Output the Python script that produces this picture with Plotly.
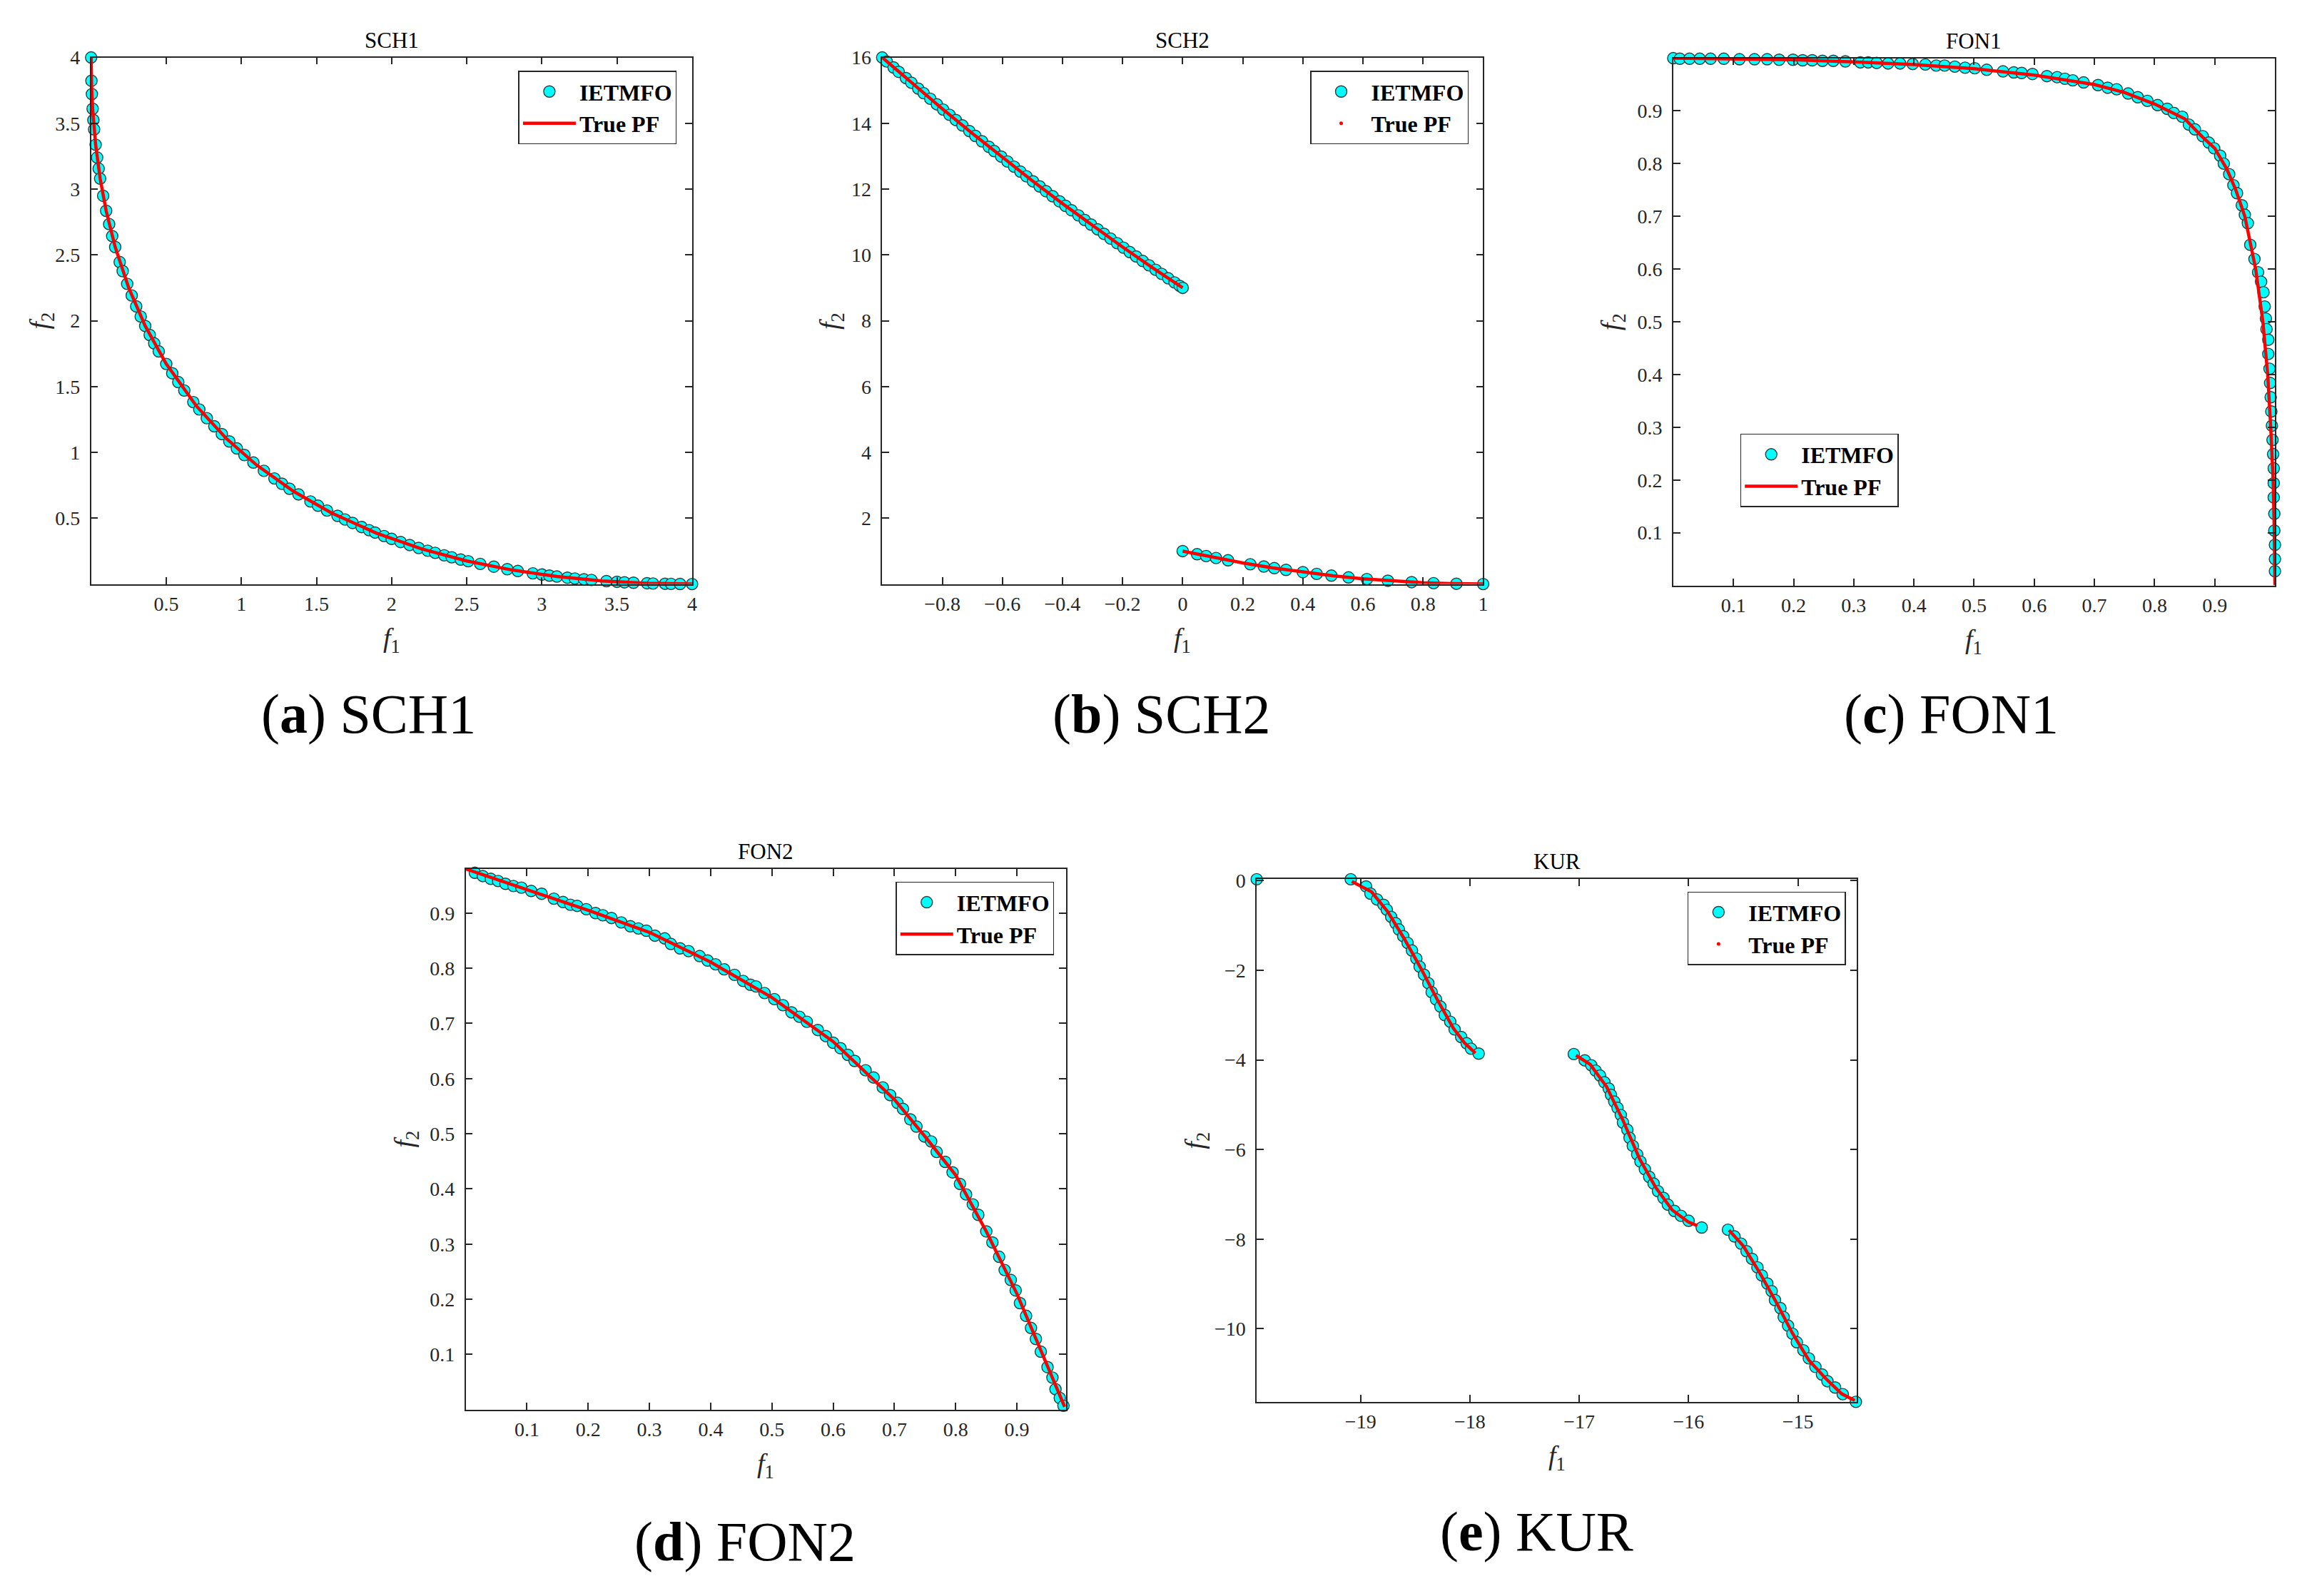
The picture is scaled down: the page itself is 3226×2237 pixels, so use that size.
import plotly.graph_objects as go

# ---- SCH1 ----
sch1_f1 = [0, 0.002, 0.005, 0.01, 0.015, 0.02, 0.03, 0.04, 0.05, 0.06, 0.08, 0.1, 0.12, 0.14, 0.16,
           0.19, 0.21, 0.24, 0.27, 0.3, 0.33, 0.36, 0.39, 0.42, 0.45, 0.5, 0.54, 0.58, 0.62, 0.68,
           0.72, 0.77, 0.82, 0.87, 0.92, 0.97, 1.02, 1.08, 1.15, 1.22, 1.27, 1.32, 1.38, 1.46, 1.51,
           1.57, 1.64, 1.69, 1.74, 1.8, 1.85, 1.89, 1.95, 2.0, 2.06, 2.12, 2.18, 2.24, 2.29, 2.35,
           2.4, 2.46, 2.51, 2.59, 2.68, 2.77, 2.84, 2.94, 3.0, 3.05, 3.1, 3.17, 3.22, 3.28, 3.33,
           3.43, 3.5, 3.55, 3.61, 3.7, 3.74, 3.82, 3.86, 3.92, 4.0]
sch1_f2 = [4.0, 3.823, 3.722, 3.61, 3.525, 3.454, 3.337, 3.24, 3.156, 3.08, 2.949, 2.835, 2.734, 2.643, 2.56,
           2.446, 2.377, 2.28, 2.192, 2.109, 2.032, 1.96, 1.892, 1.828, 1.767, 1.672, 1.601, 1.534, 1.47, 1.382,
           1.326, 1.26, 1.198, 1.139, 1.083, 1.03, 0.98, 0.923, 0.86, 0.802, 0.762, 0.724, 0.681, 0.627, 0.595,
           0.558, 0.518, 0.49, 0.464, 0.433, 0.409, 0.391, 0.364, 0.343, 0.319, 0.296, 0.274, 0.253, 0.237, 0.218,
           0.203, 0.186, 0.173, 0.153, 0.132, 0.113, 0.099, 0.081, 0.072, 0.064, 0.057, 0.048, 0.042, 0.036, 0.031,
           0.022, 0.017, 0.013, 0.01, 0.006, 0.004, 0.002, 0.001, 0.0004, 0.0]
sch1_pf_f1 = [0, 0.001, 0.003, 0.01, 0.03, 0.06, 0.1, 0.16, 0.25, 0.36, 0.5, 0.7, 0.9, 1.1, 1.35,
              1.6, 1.9, 2.2, 2.5, 2.8, 3.1, 3.4, 3.7, 4.0]
sch1_pf_f2 = [4.0, 3.875, 3.784, 3.61, 3.337, 3.08, 2.835, 2.56, 2.25, 1.96, 1.672, 1.353, 1.105, 0.905, 0.702,
              0.54, 0.386, 0.267, 0.175, 0.107, 0.057, 0.024, 0.006, 0.0]

# ---- SCH2 ----
sch2_f1 = [-1.0, -0.985, -0.962, -0.945, -0.921, -0.903, -0.88, -0.862, -0.84, -0.818, -0.797, -0.776,
           -0.755, -0.733, -0.71, -0.69, -0.668, -0.645, -0.627, -0.604, -0.583, -0.561, -0.54, -0.52,
           -0.498, -0.476, -0.455, -0.433, -0.41, -0.39, -0.37, -0.347, -0.326, -0.305, -0.283, -0.262,
           -0.24, -0.218, -0.197, -0.176, -0.155, -0.133, -0.112, -0.09, -0.07, -0.048, -0.027, -0.01, 0.0,
           0.0, 0.048, 0.078, 0.111, 0.151, 0.225, 0.27, 0.305, 0.344, 0.4, 0.446, 0.495, 0.552, 0.613,
           0.683, 0.762, 0.835, 0.911, 1.0]
sch2_f2 = [16.0, 15.88, 15.697, 15.563, 15.374, 15.233, 15.054, 14.915, 14.746, 14.577, 14.417, 14.258,
           14.1, 13.935, 13.764, 13.616, 13.454, 13.286, 13.155, 12.989, 12.838, 12.681, 12.532, 12.39,
           12.236, 12.083, 11.937, 11.785, 11.628, 11.492, 11.357, 11.202, 11.062, 10.923, 10.778, 10.641,
           10.498, 10.356, 10.221, 10.087, 9.954, 9.816, 9.685, 9.548, 9.425, 9.29, 9.163, 9.06, 9.0,
           1.0, 0.906, 0.85, 0.79, 0.721, 0.601, 0.533, 0.483, 0.43, 0.36, 0.307, 0.255, 0.201, 0.15,
           0.1, 0.057, 0.027, 0.008, 0.0]
sch2_pf_f1 = [-1.0, -0.9, -0.8, -0.7, -0.6, -0.5, -0.4, -0.3, -0.2, -0.1, 0.0, None,
              0.0, 0.1, 0.2, 0.3, 0.4, 0.5, 0.6, 0.7, 0.8, 0.9, 1.0]
sch2_pf_f2 = [16.0, 15.21, 14.44, 13.69, 12.96, 12.25, 11.56, 10.89, 10.24, 9.61, 9.0, None,
              1.0, 0.81, 0.64, 0.49, 0.36, 0.25, 0.16, 0.09, 0.04, 0.01, 0.0]

# ---- FON1 ----
fon1_f1 = [0.0, 0.011, 0.027, 0.044, 0.062, 0.084, 0.11, 0.135, 0.156, 0.176, 0.199, 0.215, 0.231, 0.248,
           0.266, 0.286, 0.311, 0.324, 0.338, 0.357, 0.377, 0.398, 0.419, 0.437, 0.451, 0.468, 0.485, 0.501,
           0.521, 0.548, 0.566, 0.579, 0.597, 0.621, 0.638, 0.651, 0.664, 0.682, 0.706, 0.722, 0.737, 0.756,
           0.772, 0.788, 0.805, 0.821, 0.832, 0.846, 0.857, 0.867, 0.88, 0.89, 0.899, 0.909, 0.915, 0.924,
           0.931, 0.937, 0.945, 0.95, 0.955, 0.959, 0.966, 0.972, 0.977, 0.981, 0.983, 0.985, 0.986, 0.989,
           0.989, 0.991, 0.992, 0.993, 0.994, 0.995, 0.996, 0.997, 0.998, 0.998, 0.998, 0.999, 0.999, 1.0,
           1.0, 1.0]
fon1_f2 = [1.0, 0.999, 0.999, 0.999, 0.999, 0.999, 0.998, 0.998, 0.998, 0.997, 0.997, 0.996, 0.996, 0.995,
           0.995, 0.994, 0.992, 0.992, 0.991, 0.99, 0.99, 0.989, 0.988, 0.986, 0.986, 0.984, 0.982, 0.981,
           0.978, 0.975, 0.973, 0.972, 0.97, 0.966, 0.964, 0.961, 0.958, 0.954, 0.949, 0.944, 0.941, 0.933,
           0.926, 0.919, 0.911, 0.904, 0.896, 0.889, 0.874, 0.865, 0.852, 0.84, 0.829, 0.815, 0.8, 0.78,
           0.759, 0.744, 0.721, 0.703, 0.687, 0.646, 0.619, 0.594, 0.576, 0.556, 0.529, 0.506, 0.486, 0.466,
           0.439, 0.411, 0.384, 0.357, 0.33, 0.303, 0.276, 0.249, 0.222, 0.194, 0.167, 0.136, 0.104, 0.077,
           0.05, 0.027, 0.0]
fon1_pf_f1 = [0.0, 0.1, 0.2, 0.3, 0.4, 0.5, 0.6, 0.7, 0.75, 0.8, 0.85, 0.88, 0.9, 0.92, 0.935, 0.95,
              0.968, 0.98, 0.988, 0.993, 0.997, 0.999, 1.0]
fon1_pf_f2 = [1.0, 0.999, 0.997, 0.993, 0.988, 0.98, 0.968, 0.95, 0.935, 0.913, 0.885, 0.85, 0.829, 0.79,
              0.75, 0.7, 0.6, 0.5, 0.4, 0.3, 0.2, 0.1, 0.0]

# ---- FON2 ----
fon2_f1 = [0.0, 0.015, 0.028, 0.041, 0.053, 0.065, 0.078, 0.091, 0.107, 0.124, 0.144, 0.159, 0.171, 0.182,
           0.197, 0.212, 0.224, 0.238, 0.254, 0.269, 0.282, 0.295, 0.309, 0.325, 0.335, 0.35, 0.364, 0.382,
           0.395, 0.408, 0.422, 0.439, 0.453, 0.465, 0.474, 0.488, 0.504, 0.518, 0.532, 0.545, 0.557, 0.575,
           0.588, 0.6, 0.612, 0.624, 0.635, 0.653, 0.666, 0.681, 0.693, 0.705, 0.714, 0.726, 0.736, 0.749,
           0.76, 0.769, 0.783, 0.795, 0.807, 0.817, 0.828, 0.837, 0.85, 0.86, 0.871, 0.88, 0.89, 0.898,
           0.905, 0.915, 0.923, 0.931, 0.939, 0.95, 0.958, 0.963, 0.97, 0.976]
fon2_f2 = [0.981, 0.973, 0.967, 0.962, 0.958, 0.953, 0.949, 0.946, 0.94, 0.935, 0.926, 0.92, 0.915, 0.913,
           0.907, 0.9, 0.896, 0.891, 0.883, 0.876, 0.872, 0.868, 0.859, 0.854, 0.844, 0.836, 0.831, 0.822,
           0.814, 0.807, 0.798, 0.788, 0.777, 0.77, 0.767, 0.755, 0.744, 0.733, 0.72, 0.712, 0.703, 0.688,
           0.677, 0.665, 0.655, 0.643, 0.632, 0.615, 0.602, 0.584, 0.57, 0.556, 0.545, 0.526, 0.513, 0.495,
           0.486, 0.467, 0.449, 0.43, 0.409, 0.39, 0.372, 0.353, 0.323, 0.303, 0.277, 0.253, 0.235, 0.216,
           0.193, 0.17, 0.148, 0.128, 0.105, 0.077, 0.058, 0.037, 0.021, 0.007]
fon2_pf_f1 = [0.0, 0.1, 0.2, 0.3, 0.4, 0.5, 0.6, 0.7, 0.75, 0.8, 0.85, 0.9, 0.93, 0.955, 0.978]
fon2_pf_f2 = [0.98, 0.943, 0.905, 0.865, 0.811, 0.747, 0.667, 0.562, 0.495, 0.425, 0.323, 0.21, 0.13,
              0.063, 0.005]

# ---- KUR ----
kur_f1 = [-19.95, -19.09, -18.95, -18.91, -18.85, -18.79, -18.76, -18.72, -18.68, -18.65, -18.61, -18.57,
          -18.53, -18.49, -18.46, -18.42, -18.38, -18.35, -18.31, -18.27, -18.23, -18.18, -18.14, -18.08,
          -18.03, -17.99, -17.92,
          -17.05, -16.95, -16.89, -16.85, -16.81, -16.77, -16.73, -16.71, -16.68, -16.65, -16.62, -16.6,
          -16.56, -16.54, -16.51, -16.47, -16.44, -16.4, -16.36, -16.32, -16.28, -16.23, -16.19, -16.13,
          -16.07, -16.0, -15.88,
          -15.64, -15.58, -15.52, -15.47, -15.42, -15.37, -15.33, -15.28, -15.24, -15.21, -15.16, -15.13,
          -15.09, -15.05, -15.01, -14.95, -14.9, -14.84, -14.78, -14.73, -14.66, -14.59, -14.47]
kur_f2 = [0.03, 0.03, -0.13, -0.29, -0.42, -0.54, -0.65, -0.81, -0.95, -1.09, -1.24, -1.39,
          -1.56, -1.74, -1.92, -2.1, -2.29, -2.49, -2.65, -2.81, -3.0, -3.15, -3.32, -3.49,
          -3.63, -3.75, -3.86,
          -3.87, -4.01, -4.12, -4.24, -4.35, -4.5, -4.64, -4.78, -4.93, -5.07, -5.23, -5.4,
          -5.56, -5.74, -5.92, -6.11, -6.27, -6.44, -6.61, -6.76, -6.93, -7.08, -7.23, -7.37,
          -7.48, -7.59, -7.74,
          -7.79, -7.94, -8.1, -8.27, -8.44, -8.63, -8.81, -8.99, -9.16, -9.36, -9.54, -9.74,
          -9.93, -10.11, -10.3, -10.48, -10.66, -10.85, -11.02, -11.17, -11.31, -11.46, -11.63]
kur_pf_f1 = [-19.08, -18.9, -18.75, -18.6, -18.45, -18.3, -18.15, -18.05, -17.95, None,
             -17.03, -16.9, -16.75, -16.6, -16.45, -16.3, -16.15, -16.0, -15.92, None,
             -15.63, -15.5, -15.35, -15.2, -15.05, -14.9, -14.75, -14.6, -14.48]
kur_pf_f2 = [-0.02, -0.25, -0.7, -1.3, -1.95, -2.65, -3.3, -3.62, -3.85, None,
             -3.9, -4.1, -4.6, -5.35, -6.2, -6.85, -7.35, -7.62, -7.7, None,
             -7.8, -8.15, -8.75, -9.4, -10.1, -10.7, -11.1, -11.45, -11.6]

W, H = 3226, 2237
FONT = "Liberation Serif"
INK = "#262626"

# pixel boxes (left, top, right, bottom) of each axes, legend corner, caption centre
panels = [
    dict(title="SCH1", tag="a", x=sch1_f1, y=sch1_f2, px=sch1_pf_f1, py=sch1_pf_f2, dot=False,
         box=(128, 66, 972, 809), xr=[0, 4], yr=[0, 4],
         xt=[0.5, 1, 1.5, 2, 2.5, 3, 3.5, 4], yt=[0.5, 1, 1.5, 2, 2.5, 3, 3.5, 4],
         leg=(728, 85), cap=(518, 992), ylab=70),
    dict(title="SCH2", tag="b", x=sch2_f1, y=sch2_f2, px=sch2_pf_f1, py=sch2_pf_f2, dot=True,
         box=(1239, 66, 2083, 809), xr=[-1, 1], yr=[0, 16],
         xt=[-0.8, -0.6, -0.4, -0.2, 0, 0.2, 0.4, 0.6, 0.8, 1], yt=[2, 4, 6, 8, 10, 12, 14, 16],
         leg=(1840, 85), cap=(1632, 992), ylab=72),
    dict(title="FON1", tag="c", x=fon1_f1, y=fon1_f2, px=fon1_pf_f1, py=fon1_pf_f2, dot=False,
         box=(2350, 67, 3195, 811), xr=[0, 1], yr=[0, 1],
         xt=[0.1, 0.2, 0.3, 0.4, 0.5, 0.6, 0.7, 0.8, 0.9], yt=[0.1, 0.2, 0.3, 0.4, 0.5, 0.6, 0.7, 0.8, 0.9],
         leg=(2444, 597), cap=(2740, 992), ylab=85),
    dict(title="FON2", tag="d", x=fon2_f1, y=fon2_f2, px=fon2_pf_f1, py=fon2_pf_f2, dot=False,
         box=(654, 1211, 1497, 1974), xr=[0, 0.98], yr=[0, 0.98],
         xt=[0.1, 0.2, 0.3, 0.4, 0.5, 0.6, 0.7, 0.8, 0.9], yt=[0.1, 0.2, 0.3, 0.4, 0.5, 0.6, 0.7, 0.8, 0.9],
         leg=(1258, 1229), cap=(1046, 2160), ylab=84),
    dict(title="KUR", tag="e", x=kur_f1, y=kur_f2, px=kur_pf_f1, py=kur_pf_f2, dot=True,
         box=(1765, 1225, 2608, 1963), xr=[-19.95, -14.46], yr=[-11.63, 0.04],
         xt=[-19, -18, -17, -16, -15], yt=[-10, -8, -6, -4, -2, 0],
         leg=(2370, 1243), cap=(2158, 2146), ylab=84),
]

fig = go.Figure()
annotations = []

for i, p in enumerate(panels, start=1):
    sfx = "" if i == 1 else str(i)
    xa, ya = "x" + sfx, "y" + sfx
    lg = "legend" + sfx
    l, t, r, b = p["box"]

    fig.add_trace(go.Scatter(
        x=p["x"], y=p["y"], mode="markers", name="<b>IETMFO</b>",
        xaxis=xa, yaxis=ya, legend=lg, cliponaxis=False,
        marker=dict(size=16, color="#00FFFF", line=dict(color="#2b3f3f", width=1.4))))
    fig.add_trace(go.Scatter(
        x=p["px"], y=p["py"], mode="lines", name="<b>True PF</b>",
        xaxis=xa, yaxis=ya, legend=lg, cliponaxis=False, showlegend=not p["dot"],
        line=dict(color="#FF0000", width=4.5)))
    if p["dot"]:
        # legend entry only: the true front is drawn with dots in this panel
        fig.add_trace(go.Scatter(
            x=[None], y=[None], mode="markers", name="<b>True PF</b>",
            xaxis=xa, yaxis=ya, legend=lg, marker=dict(size=5, color="#FF0000")))

    axis_style = dict(showgrid=False, zeroline=False, showline=True, linecolor=INK, linewidth=1.5,
                      mirror="ticks", ticks="inside", ticklen=10, tickwidth=1.5, tickcolor=INK,
                      tickfont=dict(family=FONT, size=28, color=INK))
    fig.update_layout(**{
        "xaxis" + sfx: dict(axis_style, domain=[l / W, r / W], range=p["xr"], tickvals=p["xt"],
                            anchor=ya, ticklabelstandoff=2),
        "yaxis" + sfx: dict(axis_style, domain=[1 - b / H, 1 - t / H], range=p["yr"], tickvals=p["yt"],
                            anchor=xa, ticklabelstandoff=8),
        lg: dict(x=p["leg"][0] / W, y=1 - p["leg"][1] / H, xanchor="left", yanchor="top",
                 bgcolor="white", bordercolor=INK, borderwidth=1.5, itemwidth=74, tracegroupgap=0,
                 font=dict(family=FONT, size=32, color="black")),
    })

    cx = (l + r) / 2 / W
    cy = 1 - (t + b) / 2 / H
    annotations += [
        dict(text=p["title"], xref="paper", yref="paper", x=cx, y=1 - t / H,
             xanchor="center", yanchor="bottom", yshift=5, showarrow=False,
             font=dict(family=FONT, size=31, color="black")),
        dict(text="<i>f</i><sub>1</sub>", xref="paper", yref="paper", x=cx, y=1 - (b + 79) / H,
             xanchor="center", yanchor="middle", showarrow=False,
             font=dict(family=FONT, size=38, color=INK)),
        dict(text="<i>f</i><sub>2</sub>", xref="paper", yref="paper", x=(l - p["ylab"]) / W, y=cy,
             xanchor="center", yanchor="middle", textangle=-90, showarrow=False,
             font=dict(family=FONT, size=38, color=INK)),
        dict(text="(<b>" + p["tag"] + "</b>) " + p["title"], xref="paper", yref="paper",
             x=p["cap"][0] / W, y=1 - p["cap"][1] / H, xanchor="center", yanchor="middle",
             showarrow=False, font=dict(family=FONT, size=78, color="black")),
    ]

fig.update_layout(width=W, height=H, margin=dict(l=0, r=0, t=0, b=0),
                  paper_bgcolor="white", plot_bgcolor="white", annotations=annotations)
fig.write_html("out.html", config={"displayModeBar": False},
               post_script="document.body.style.margin = '0px';")
